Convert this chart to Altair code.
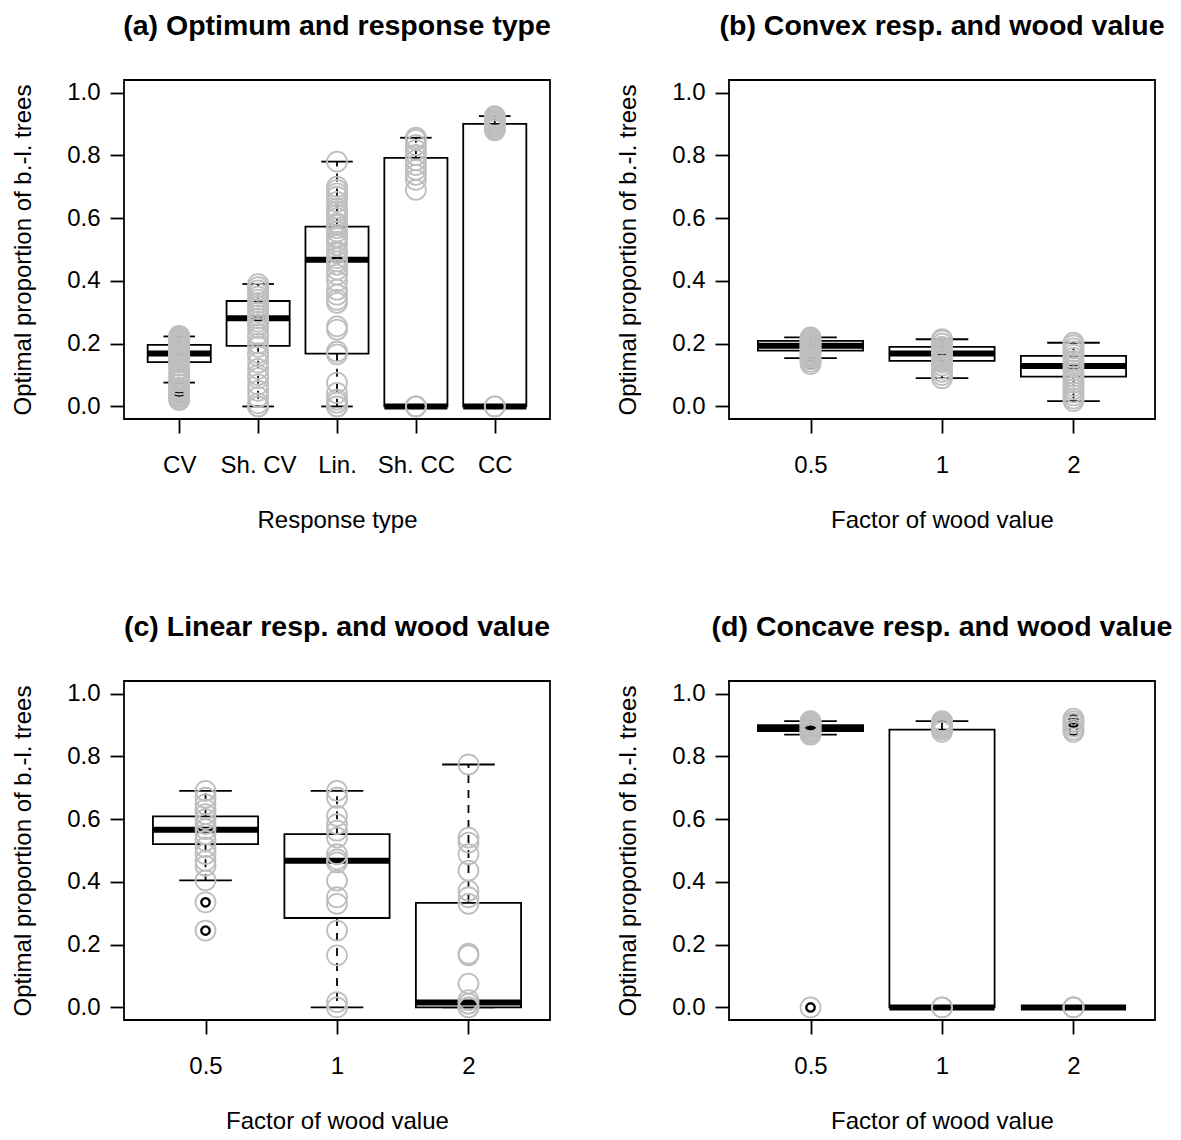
import json
import altair as alt
import pandas as pd

FONT = "Liberation Sans"
GREY = "#bebebe"

# ---------------- data ----------------
# (a) Optimum and response type
a_labels = ["CV", "Sh. CV", "Lin.", "Sh. CC", "CC"]
a_q1 = [0.141, 0.193, 0.168, 0.0, 0.0]
a_med = [0.169, 0.281, 0.467, 0.0, 0.0]
a_q3 = [0.196, 0.336, 0.573, 0.792, 0.900]
a_wlo = [0.076, 0.0, 0.0, 0.0, 0.0]
a_whi = [0.223, 0.390, 0.780, 0.856, 0.925]
a_out = [[0.025, 0.035, 0.045, 0.06], [], [], [], []]
a_pts = [
    [0.02, 0.025, 0.03, 0.035, 0.04, 0.045, 0.05, 0.055, 0.06, 0.07, 0.08, 0.09, 0.10,
     0.11, 0.12, 0.13, 0.14, 0.145, 0.15, 0.155, 0.16, 0.165, 0.17, 0.175, 0.18, 0.185,
     0.19, 0.195, 0.20, 0.205, 0.21, 0.215, 0.22, 0.225],
    [0.0, 0.0, 0.01, 0.03, 0.05, 0.07, 0.09, 0.10, 0.12, 0.14, 0.16, 0.17, 0.19, 0.20,
     0.22, 0.23, 0.25, 0.26, 0.27, 0.28, 0.29, 0.30, 0.31, 0.32, 0.33, 0.34, 0.35, 0.36,
     0.37, 0.38, 0.39],
    [0.0, 0.0, 0.012, 0.022, 0.043, 0.076, 0.166, 0.175, 0.245, 0.255, 0.33, 0.34, 0.356,
     0.372, 0.399, 0.42, 0.436, 0.451, 0.462, 0.473, 0.488, 0.494, 0.515, 0.525, 0.536,
     0.541, 0.557, 0.568, 0.578, 0.584, 0.60, 0.61, 0.621, 0.631, 0.652, 0.668, 0.679,
     0.69, 0.70, 0.78],
    [0.0, 0.0, 0.0, 0.69, 0.722, 0.738, 0.754, 0.769, 0.785, 0.801, 0.817, 0.833, 0.849,
     0.856],
    [0.0, 0.0, 0.88, 0.885, 0.89, 0.895, 0.90, 0.905, 0.91, 0.915, 0.92, 0.925],
]

wood_labels = ["0.5", "1", "2"]

# (b) Convex resp. and wood value
b_q1 = [0.178, 0.145, 0.095]
b_med = [0.193, 0.169, 0.129]
b_q3 = [0.209, 0.190, 0.161]
b_wlo = [0.154, 0.090, 0.017]
b_whi = [0.220, 0.214, 0.203]
b_out = [[0.135, 0.142], [], []]
b_pts = [
    [0.135, 0.142, 0.15, 0.155, 0.16, 0.165, 0.17, 0.175, 0.18, 0.185, 0.19, 0.195, 0.20,
     0.205, 0.21, 0.215, 0.22],
    [0.09, 0.10, 0.11, 0.12, 0.13, 0.14, 0.145, 0.15, 0.155, 0.16, 0.165, 0.17, 0.175,
     0.18, 0.185, 0.19, 0.20, 0.21, 0.214],
    [0.017, 0.025, 0.035, 0.045, 0.055, 0.065, 0.075, 0.085, 0.095, 0.105, 0.115, 0.125,
     0.135, 0.145, 0.155, 0.165, 0.175, 0.185, 0.195, 0.203],
]

# (c) Linear resp. and wood value
c_q1 = [0.520, 0.285, 0.0]
c_med = [0.566, 0.467, 0.016]
c_q3 = [0.609, 0.552, 0.333]
c_wlo = [0.405, 0.0, 0.0]
c_whi = [0.690, 0.690, 0.774]
c_out = [[0.245, 0.335], [], []]
c_pts = [
    [0.245, 0.335, 0.405, 0.451, 0.467, 0.489, 0.51, 0.531, 0.552, 0.568, 0.584, 0.60,
     0.616, 0.631, 0.647, 0.668, 0.69],
    [0.0, 0.017, 0.166, 0.245, 0.33, 0.351, 0.404, 0.462, 0.472, 0.488, 0.541, 0.563,
     0.584, 0.61, 0.668, 0.69],
    [0.0, 0.0, 0.012, 0.023, 0.076, 0.166, 0.171, 0.33, 0.351, 0.372, 0.436, 0.488,
     0.525, 0.541, 0.774],
]

# (d) Concave resp. and wood value
d_q1 = [0.880, 0.0, 0.0]
d_med = [0.890, 0.0, 0.0]
d_q3 = [0.899, 0.885, 0.0]
d_wlo = [0.869, 0.0, 0.0]
d_whi = [0.912, 0.912, 0.0]
d_out = [[0.0], [], [0.882, 0.905, 0.918]]
d_pts = [
    [0.0, 0.869, 0.875, 0.88, 0.885, 0.89, 0.895, 0.90, 0.905, 0.91, 0.912],
    [0.0, 0.0, 0.878, 0.885, 0.89, 0.895, 0.90, 0.905, 0.91, 0.912],
    [0.0, 0.0, 0.0, 0.878, 0.885, 0.895, 0.905, 0.912, 0.92],
]

Y_TITLE = "Optimal proportion of b.-l. trees"
W, H = 426, 339


def panel(title, labels, q1, med, q3, wlo, whi, outs, pts, xtitle):
    n = len(labels)
    pos = list(range(1, n + 1))
    boxes = pd.DataFrame({
        "pos": pos, "q1": q1, "med": med, "q3": q3, "wlo": wlo, "whi": whi,
    })
    boxes["xl"] = boxes["pos"] - 0.4
    boxes["xr"] = boxes["pos"] + 0.4
    boxes["cl"] = boxes["pos"] - 0.2
    boxes["cr"] = boxes["pos"] + 0.2
    whisk = pd.concat([
        boxes[["pos", "cl", "cr"]].assign(a=boxes["q3"], b=boxes["whi"]),
        boxes[["pos", "cl", "cr"]].assign(a=boxes["q1"], b=boxes["wlo"]),
    ], ignore_index=True)
    pts_df = pd.DataFrame([(p, v) for p, vals in zip(pos, pts) for v in vals],
                          columns=["pos", "v"])
    out_df = pd.DataFrame([(p, v) for p, vals in zip(pos, outs) for v in vals],
                          columns=["pos", "v"])

    ext = 0.04 * n
    xscale = alt.Scale(domain=[0.5 - ext, n + 0.5 + ext], nice=False, zero=False)
    yscale = alt.Scale(domain=[-0.04, 1.04], nice=False, zero=False)
    xaxis = alt.Axis(values=pos, title=xtitle,
                     labelExpr=json.dumps(labels) + "[datum.value - 1]",
                     labelPadding=20, titlePadding=31)
    yaxis = alt.Axis(values=[0, 0.2, 0.4, 0.6, 0.8, 1.0], format=".1f", title=Y_TITLE,
                     labelPadding=10, titlePadding=31)

    def X(field):
        return alt.X(field, type="quantitative", scale=xscale, axis=xaxis)

    def Y(field):
        return alt.Y(field, type="quantitative", scale=yscale, axis=yaxis)

    whisk_l = alt.Chart(whisk).mark_rule(color="black", strokeWidth=1.8,
                                         strokeDash=[8, 7]).encode(
        x=X("pos"), y=Y("a"), y2="b")
    caps_l = alt.Chart(whisk).mark_rule(color="black", strokeWidth=1.8).encode(
        x=X("cl"), x2="cr", y=Y("b"))
    box_l = alt.Chart(boxes).mark_rect(fill="white", stroke="black",
                                       strokeWidth=1.8).encode(
        x=X("xl"), x2="xr", y=Y("q1"), y2="q3")
    med_l = alt.Chart(boxes).mark_rule(color="black", strokeWidth=6).encode(
        x=X("xl"), x2="xr", y=Y("med"))
    out_l = alt.Chart(out_df).mark_point(shape="circle", filled=False, color="black",
                                         size=70, strokeWidth=2.4, opacity=1).encode(
        x=X("pos"), y=Y("v"))
    pts_l = alt.Chart(pts_df).mark_point(shape="circle", filled=False, color=GREY,
                                         size=400, strokeWidth=1.8, opacity=1).encode(
        x=X("pos"), y=Y("v"))

    return alt.layer(whisk_l, caps_l, box_l, med_l, out_l, pts_l).properties(
        width=W, height=H,
        title=alt.TitleParams(title, font=FONT, fontSize=28.5, fontWeight="bold",
                              color="black", anchor="middle", frame="group", offset=40),
    )


pa = panel("(a) Optimum and response type", a_labels, a_q1, a_med, a_q3, a_wlo, a_whi,
           a_out, a_pts, "Response type")
pb = panel("(b) Convex resp. and wood value", wood_labels, b_q1, b_med, b_q3, b_wlo, b_whi,
           b_out, b_pts, "Factor of wood value")
pc = panel("(c) Linear resp. and wood value", wood_labels, c_q1, c_med, c_q3, c_wlo, c_whi,
           c_out, c_pts, "Factor of wood value")
pd_ = panel("(d) Concave resp. and wood value", wood_labels, d_q1, d_med, d_q3, d_wlo, d_whi,
            d_out, d_pts, "Factor of wood value")

chart = alt.concat(pa, pb, pc, pd_, columns=2, spacing={"row": 262, "column": 179},
                   bounds="flush").properties(
    padding={"left": 10, "top": 10, "right": 0, "bottom": 0},
    background="white",
).configure_view(
    stroke="black", strokeWidth=1.8, fill="white"
).configure_axis(
    domain=False, grid=False, ticks=True, tickSize=14, tickWidth=1.8, tickColor="black",
    labelFont=FONT, labelFontSize=24, labelColor="black",
    titleFont=FONT, titleFontSize=24, titleFontWeight="normal", titleColor="black",
)

chart.save("out.html", embed_options={"renderer": "svg", "actions": False})
